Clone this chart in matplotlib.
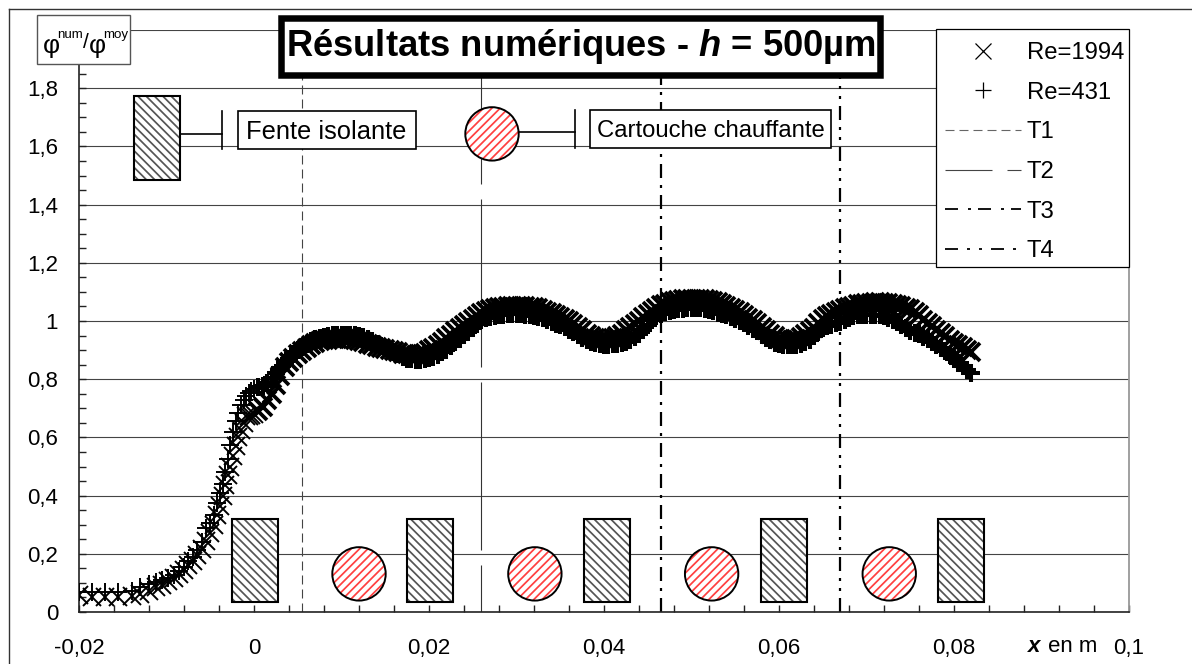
import matplotlib
matplotlib.use("Agg")
import matplotlib.pyplot as plt
from matplotlib.lines import Line2D
from matplotlib.patches import Rectangle, Ellipse

plt.rcParams['font.family'] = ['Liberation Sans', 'DejaVu Sans']
plt.rcParams['mathtext.fontset'] = 'custom'
plt.rcParams['mathtext.rm'] = 'Liberation Sans'
plt.rcParams['mathtext.it'] = 'Liberation Sans:italic'
plt.rcParams['mathtext.bf'] = 'Liberation Sans:bold'
plt.rcParams['mathtext.bfit'] = 'Liberation Sans:italic:bold'
plt.rcParams['lines.scale_dashes'] = False
plt.rcParams['hatch.linewidth'] = 1.25

PX = 0.72  # one pixel in points at dpi 100

x_mesh = [
    -0.0200, -0.0185, -0.0170, -0.0155, -0.0140, -0.0130, -0.0120, -0.0112, -0.0105, -0.0098,
    -0.0092, -0.0086, -0.0080, -0.0075, -0.0070, -0.0065, -0.0060, -0.0055, -0.0050, -0.0046,
    -0.0042, -0.0039, -0.0036, -0.0033, -0.0030, -0.0027, -0.0024, -0.0021, -0.0018, -0.0015,
    -0.0012, -0.0009, -0.0006, -0.0003, 0.0000,
    0.0005, 0.0010, 0.0015, 0.0020, 0.0025, 0.0030, 0.0035, 0.0040, 0.0045, 0.0050,
    0.0055, 0.0060, 0.0065, 0.0070, 0.0075, 0.0080, 0.0085, 0.0090, 0.0095, 0.0100,
    0.0105, 0.0110, 0.0115, 0.0120, 0.0125, 0.0130, 0.0135, 0.0140, 0.0145, 0.0150,
    0.0155, 0.0160, 0.0165, 0.0170, 0.0175, 0.0180, 0.0185, 0.0190, 0.0195, 0.0200,
    0.0205, 0.0210, 0.0215, 0.0220, 0.0225, 0.0230, 0.0235, 0.0240, 0.0245, 0.0250,
    0.0255, 0.0260, 0.0265, 0.0270, 0.0275, 0.0280, 0.0285, 0.0290, 0.0295, 0.0300,
    0.0305, 0.0310, 0.0315, 0.0320, 0.0325, 0.0330, 0.0335, 0.0340, 0.0345, 0.0350,
    0.0355, 0.0360, 0.0365, 0.0370, 0.0375, 0.0380, 0.0385, 0.0390, 0.0395, 0.0400,
    0.0405, 0.0410, 0.0415, 0.0420, 0.0425, 0.0430, 0.0435, 0.0440, 0.0445, 0.0450,
    0.0455, 0.0460, 0.0465, 0.0470, 0.0475, 0.0480, 0.0485, 0.0490, 0.0495, 0.0500,
    0.0505, 0.0510, 0.0515, 0.0520, 0.0525, 0.0530, 0.0535, 0.0540, 0.0545, 0.0550,
    0.0555, 0.0560, 0.0565, 0.0570, 0.0575, 0.0580, 0.0585, 0.0590, 0.0595, 0.0600,
    0.0605, 0.0610, 0.0615, 0.0620, 0.0625, 0.0630, 0.0635, 0.0640, 0.0645, 0.0650,
    0.0655, 0.0660, 0.0665, 0.0670, 0.0675, 0.0680, 0.0685, 0.0690, 0.0695, 0.0700,
    0.0705, 0.0710, 0.0715, 0.0720, 0.0725, 0.0730, 0.0735, 0.0740, 0.0745, 0.0750,
    0.0755, 0.0760, 0.0765, 0.0770, 0.0775, 0.0780, 0.0785, 0.0790, 0.0795, 0.0800,
    0.0805, 0.0810, 0.0815, 0.0820,
]

re_1994 = [
    .060, .052, .050, .050, .056, .062, .072, .085, .094, .105,
    .118, .130, .145, .160, .175, .195, .218, .245, .272, .300,
    .335, .365, .400, .436, .470, .500, .535, .572, .600, .625,
    .650, .672, .672, .677, .680,
    .690, .705, .728, .749, .780, .810, .842, .858, .872, .885,
    .896, .907, .917, .925, .931, .934, .936, .938, .939, .940,
    .940, .939, .936, .932, .928, .922, .918, .912, .908, .904,
    .900, .897, .892, .888, .885, .883, .883, .885, .891, .900,
    .908, .918, .928, .941, .953, .964, .975, .985, .996, 1.007,
    1.017, 1.026, 1.034, 1.040, 1.044, 1.047, 1.049, 1.051, 1.052, 1.052,
    1.052, 1.051, 1.049, 1.047, 1.043, 1.038, 1.032, 1.026, 1.020, 1.013,
    1.007, .999, .989, .979, .968, .957, .948, .942, .939, .938,
    .938, .941, .947, .957, .968, .979, .990, 1.001, 1.013, 1.025,
    1.036, 1.046, 1.054, 1.060, 1.065, 1.069, 1.072, 1.074, 1.076, 1.077,
    1.077, 1.077, 1.075, 1.073, 1.069, 1.064, 1.058, 1.052, 1.046, 1.038,
    1.030, 1.021, 1.012, 1.002, .992, .981, .969, .957, .947, .939,
    .935, .934, .935, .939, .945, .954, .965, .977, .992, 1.006,
    1.017, 1.025, 1.032, 1.038, 1.044, 1.049, 1.053, 1.057, 1.060, 1.062,
    1.063, 1.064, 1.064, 1.063, 1.062, 1.060, 1.056, 1.051, 1.046, 1.040,
    1.032, 1.021, 1.005, .994, .982, .970, .958, .947, .936, .926,
    .917, .909, .902, .895,
]

re_431 = [
    .069, .069, .069, .069, .072, .085, .097, .103, .110, .118,
    .127, .140, .155, .175, .190, .213, .240, .289, .305, .333,
    .375, .410, .440, .480, .525, .575, .620, .655, .685, .712,
    .730, .743, .752, .760, .768,
    .772, .777, .787, .803, .820, .837, .855, .870, .885, .900,
    .910, .920, .930, .938, .943, .946, .949, .951, .952, .953,
    .953, .953, .952, .950, .945, .938, .930, .922, .915, .908,
    .900, .892, .885, .877, .871, .868, .867, .867, .869, .873,
    .878, .884, .892, .902, .915, .927, .939, .951, .962, .976,
    .990, 1.003, 1.010, 1.015, 1.018, 1.020, 1.022, 1.023, 1.023, 1.023,
    1.023, 1.022, 1.020, 1.018, 1.014, 1.009, 1.003, .997, .991, .985,
    .979, .970, .961, .952, .943, .934, .927, .923, .920, .919,
    .919, .920, .921, .924, .928, .935, .944, .955, .968, .985,
    1.002, 1.016, 1.025, 1.031, 1.035, 1.038, 1.040, 1.042, 1.043, 1.044,
    1.044, 1.043, 1.041, 1.037, 1.033, 1.028, 1.024, 1.019, 1.014, 1.008,
    1.001, .993, .984, .974, .964, .953, .942, .933, .926, .921,
    .919, .918, .918, .919, .921, .927, .936, .948, .962, .975,
    .982, .987, .993, .998, 1.005, 1.012, 1.016, 1.019, 1.021, 1.022,
    1.022, 1.021, 1.019, 1.017, 1.012, 1.005, .995, .985, .976, .967,
    .960, .955, .946, .937, .927, .916, .907, .897, .882, .868,
    .856, .844, .833, .823,
]

thermo_x = [0.0055, 0.026, 0.0465, 0.067]
thermo_names = ['T1', 'T2', 'T3', 'T4']
slot_left = [-0.0025, 0.0175, 0.0377, 0.0579, 0.0782]
heater_x = [0.012, 0.0321, 0.0523, 0.0726]
x_ticks = [-0.02, 0, 0.02, 0.04, 0.06, 0.08, 0.1]
x_labels = ['-0,02', '0', '0,02', '0,04', '0,06', '0,08', '0,1']
y_ticks = [0, 0.2, 0.4, 0.6, 0.8, 1, 1.2, 1.4, 1.6, 1.8, 2]
y_labels = ['0', '0,2', '0,4', '0,6', '0,8', '1', '1,2', '1,4', '1,6', '1,8', '']

N_COARSE = 35  # the mesh gets fine after x=0, markers merge into a band there


def dash(*px, offset=0):
    return (offset * PX, tuple(p * PX for p in px))


def slot(ax, x, y, w, h):
    ax.add_patch(Rectangle((x, y), w, h, facecolor='white', edgecolor='#555555', hatch='\\\\\\\\', lw=0, zorder=4))
    ax.add_patch(Rectangle((x, y), w, h, fill=False, edgecolor='black', lw=1.5, zorder=4.1))


def heater(ax, x, y, w, h):
    ax.add_patch(Ellipse((x, y), w, h, facecolor='white', edgecolor='#ff4040', hatch='////', lw=0, zorder=4))
    ax.add_patch(Ellipse((x, y), w, h, fill=False, edgecolor='black', lw=1.4, zorder=4.1))


def label_box(ax, x0, x1, y0, y1, **kw):
    ax.add_patch(Rectangle((x0, y0), x1 - x0, y1 - y0, facecolor='white', clip_on=False, **kw))


fig = plt.figure(figsize=(11.92, 6.64), dpi=100)
ax = fig.add_axes([79 / 1192, 52 / 664, 1050 / 1192, 582 / 664])
ax.set_xlim(-0.02, 0.1)
ax.set_ylim(0, 2)

ax.set_yticks(y_ticks, y_labels, fontsize=16)
ax.set_xticks(x_ticks, x_labels, fontsize=16)
ax.set_yticks([i * 0.05 for i in range(41)], minor=True)
ax.set_xticks([-0.02 + i * 0.004 for i in range(31)], minor=True)
ax.tick_params(which='both', direction='in', length=5, width=1, color='#222222')
ax.tick_params(axis='y', which='major', pad=15)
ax.tick_params(axis='x', which='major', pad=19)
ax.yaxis.grid(True, which='major', color='#444444', lw=0.8, zorder=1)
ax.set_axisbelow(True)
ax.spines['top'].set_visible(False)
ax.spines['right'].set_color('#999999')
ax.spines['right'].set_linewidth(1.3)
ax.spines['left'].set_linewidth(1.2)
ax.spines['bottom'].set_linewidth(1.2)
ax.spines['left'].set_color('#222222')
ax.spines['bottom'].set_color('#222222')

# thermocouple positions
main_styles = [
    dash(9, 5),
    dash(168, 15, offset=121),
    dash(14, 7, 3, 7),
    dash(14, 7, 3, 7, 3, 7),
]
widths = [0.8, 0.8, 1.6, 1.6]
colors = ['#444444', '#333333', 'black', 'black']
for tx, st, w, c in zip(thermo_x, main_styles, widths, colors):
    ax.axvline(tx, color=c, lw=w, linestyle=st, dash_capstyle='butt', zorder=2)

ax.plot(x_mesh[:N_COARSE], re_1994[:N_COARSE], ls='none', marker='x', ms=13, mew=1.4, color='black', zorder=3)
ax.plot(x_mesh[:N_COARSE], re_431[:N_COARSE], ls='none', marker='+', ms=13, mew=1.4, color='black', zorder=3)
ax.plot(x_mesh[N_COARSE:], re_1994[N_COARSE:], ls='none', marker='x', ms=13.2, mew=2.7, color='black', zorder=3)
ax.plot(x_mesh[N_COARSE:], re_431[N_COARSE:], ls='none', marker='+', ms=13.2, mew=2.9, color='black', zorder=3)

# slots and heaters along the wall
for sx in slot_left:
    slot(ax, sx, 0.034, 0.00526, 0.286)
for hx in heater_x:
    heater(ax, hx, 0.131, 0.0061, 0.1835)

# key drawn inside the plot
slot(ax, -0.01371, 1.4845, 0.00526, 0.2885)
ax.plot([-0.00846, -0.00366], [1.643, 1.643], color='black', lw=1.2, zorder=4)
ax.plot([-0.00366, -0.00366], [1.591, 1.722], color='black', lw=1.2, zorder=4)
label_box(ax, -0.00183, 0.01851, 1.591, 1.722, edgecolor='black', lw=1.2, zorder=5)
ax.text(-0.00097, 1.65, 'Fente isolante', fontsize=18.4, va='center', zorder=6)

heater(ax, 0.0272, 1.643, 0.0061, 0.1835)
ax.plot([0.03029, 0.03669], [1.649, 1.649], color='black', lw=1.2, zorder=4)
ax.plot([0.03669, 0.03669], [1.595, 1.725], color='black', lw=1.2, zorder=4)
label_box(ax, 0.0384, 0.06594, 1.595, 1.725, edgecolor='black', lw=1.2, zorder=5)
ax.text(0.0392, 1.652, 'Cartouche chauffante', fontsize=17.2, va='center', zorder=6)

# y label box
label_box(ax, -0.0248, -0.01417, 1.883, 2.052, edgecolor='#555555', lw=1, zorder=5)
ax.text(-0.02411, 1.92, 'φ', fontsize=19, va='baseline', zorder=6)
ax.text(-0.02251, 1.973, 'num', fontsize=9.6, va='baseline', zorder=6)
ax.text(-0.01955, 1.938, '/', fontsize=15, va='baseline', zorder=6)
ax.text(-0.01885, 1.92, 'φ', fontsize=19, va='baseline', zorder=6)
ax.text(-0.01725, 1.973, 'moy', fontsize=9.6, va='baseline', zorder=6)

# title box
label_box(ax, 0.00309, 0.07154, 1.845, 2.041, edgecolor='black', lw=6.5 * PX, zorder=7)
ax.text(0.03732, 1.943, r'Résultats numériques - $\mathbfit{h}$ = 500µm', fontsize=26.2, fontweight='bold',
        ha='center', va='center', zorder=8)

# axis name sits between the last tick labels
ax.text(0.08846, -0.12, 'x', fontsize=16, fontweight='bold', fontstyle='italic', va='center')
ax.text(0.09070, -0.12, 'en m', fontsize=16, va='center')

# legend frame is drawn apart, its padding is not even on the two sides
label_box(ax, 0.07794, 0.1, 1.1856, 2.0034, edgecolor='black', lw=0.9, zorder=5.5)
handles = [
    Line2D([], [], ls='none', marker='x', ms=12.2, mew=0.9, color='black'),
    Line2D([], [], ls='none', marker='+', ms=12.2, mew=0.9, color='black'),
    Line2D([], [], color='#666666', lw=0.8, linestyle=dash(9, 5), dash_capstyle='butt'),
    Line2D([], [], color='#444444', lw=0.8, linestyle=dash(47, 15, 15, 15), dash_capstyle='butt'),
    Line2D([], [], color='black', lw=1.3, linestyle=dash(13, 10, 3, 7), dash_capstyle='butt'),
    Line2D([], [], color='black', lw=1.3, linestyle=dash(13, 9, 3, 9, 3, 9), dash_capstyle='butt'),
]
leg = ax.legend(handles, ['Re=1994', 'Re=431'] + thermo_names, loc='upper left',
                bbox_to_anchor=((937 - 79) / 1050, 1 - 4 / 582), borderaxespad=0, fontsize=17.2,
                handlelength=3.17, handletextpad=0.25, borderpad=0.33, labelspacing=0.74,
                frameon=False)
leg.set_zorder(6)

# outer chart frame, runs off the right and bottom of the picture
fig.add_artist(Line2D([9 / 1192, 9 / 1192], [0, 655 / 664], color='#333333', lw=1))
fig.add_artist(Line2D([9 / 1192, 1], [655 / 664, 655 / 664], color='#333333', lw=1))

fig.savefig('out.png', dpi=100)
